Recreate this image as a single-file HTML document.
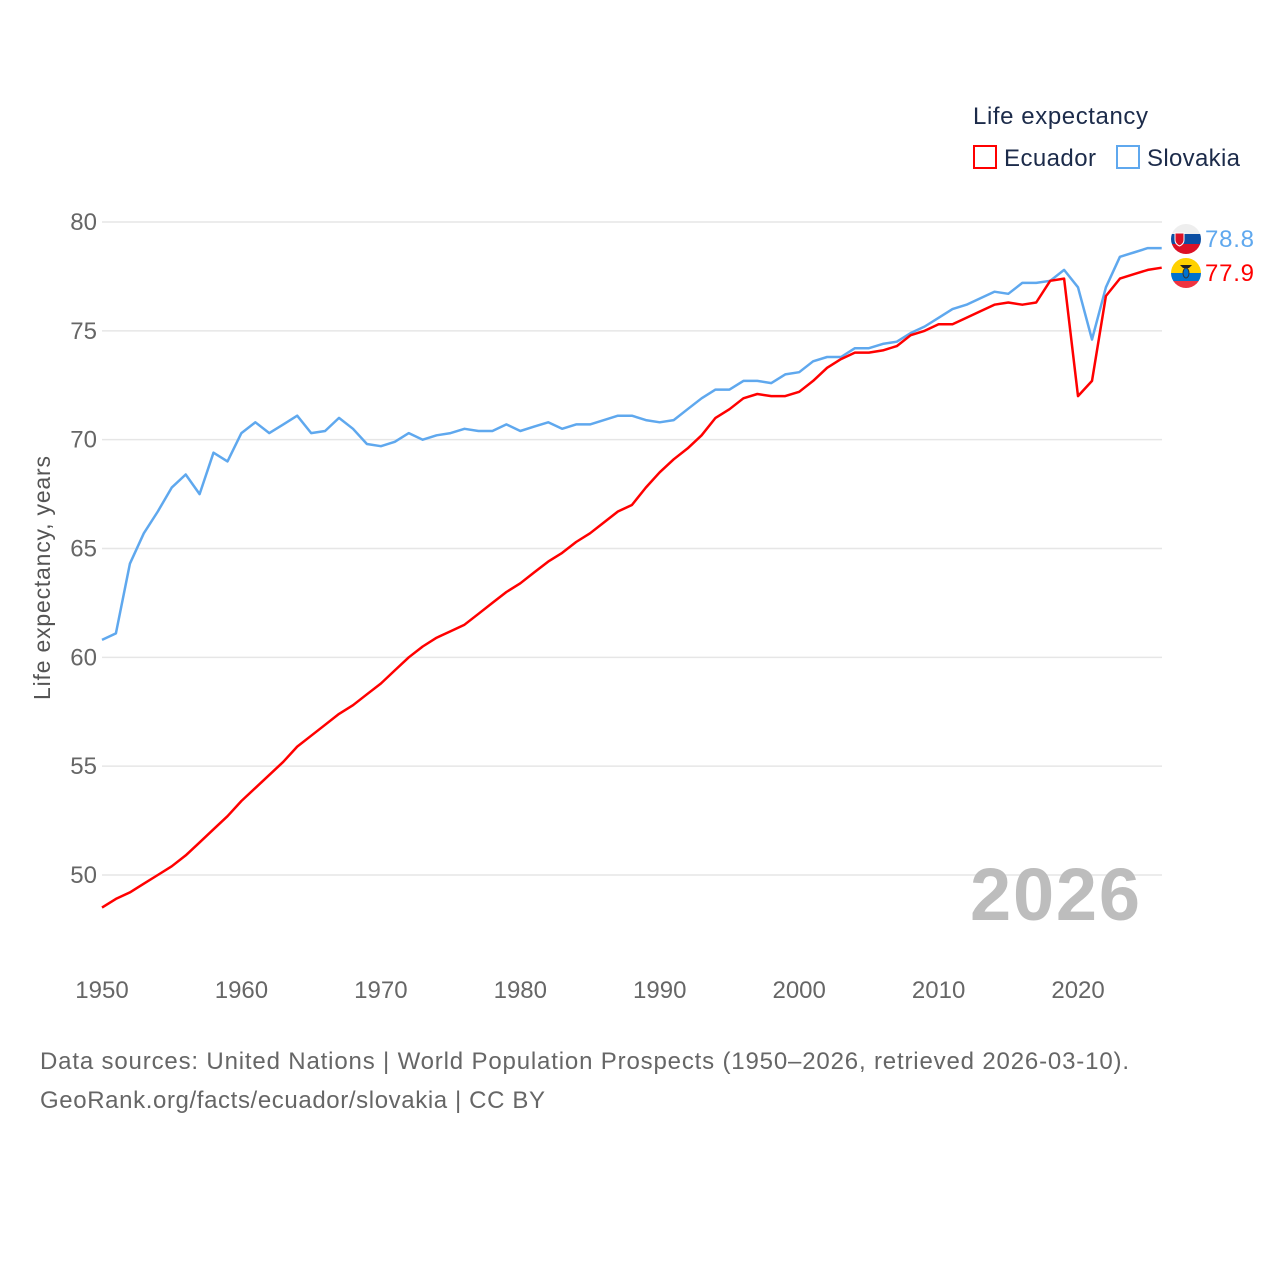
<!DOCTYPE html>
<html><head><meta charset="utf-8"><style>
body{margin:0;background:#fff;}
svg{display:block;font-family:"Liberation Sans",sans-serif;}
</style></head><body>
<svg id="chart" width="1280" height="1280" viewBox="0 0 1280 1280">
<rect width="1280" height="1280" fill="#fff"/>
<g id="grid"></g>
<g id="yticks"></g>
<g id="xticks"></g>
<text x="50" y="578" transform="rotate(-90 50 578)" text-anchor="middle" font-size="23" fill="#555" textLength="244">Life expectancy, years</text>
<text x="1140" y="920" text-anchor="end" font-size="74" font-weight="bold" fill="#bdbdbd" textLength="170">2026</text>
<g id="series"></g>
<g>
<text x="973" y="124" font-size="24" fill="#1c2b4a" textLength="175">Life expectancy</text>
<g><rect x="974" y="146" width="22" height="22" fill="none" stroke="#ff0000" stroke-width="2"/><text x="1004" y="166" font-size="24" fill="#1c2b4a" textLength="92">Ecuador</text></g>
<g><rect x="1117" y="146" width="22" height="22" fill="none" stroke="#5fa8ee" stroke-width="2"/><text x="1147" y="166" font-size="24" fill="#1c2b4a" textLength="93">Slovakia</text></g>
</g>
<g>
<defs><clipPath id="cs"><circle cx="1186" cy="239" r="15"/></clipPath><clipPath id="ce"><circle cx="1186" cy="273" r="15"/></clipPath></defs>
<g clip-path="url(#cs)"><rect x="1171" y="224" width="30" height="10" fill="#eee"/><rect x="1171" y="234" width="30" height="10" fill="#0b4ea2"/><rect x="1171" y="244" width="30" height="10" fill="#dc1126"/><path d="M1175 233h9v7q0 4-4.5 6q-4.5-2-4.5-6z" fill="#dc1126" stroke="#fff" stroke-width="1"/></g>
<g clip-path="url(#ce)"><rect x="1171" y="258" width="30" height="15" fill="#ffd100"/><rect x="1171" y="273" width="30" height="8" fill="#0072ce"/><rect x="1171" y="281" width="30" height="8" fill="#ef3340"/><ellipse cx="1186" cy="273" rx="3" ry="5" fill="#0072ce" stroke="#333" stroke-width="1"/><path d="M1180 265h12l-3 3h-6z" fill="#222"/></g>
<text x="1205" y="247" font-size="24" fill="#5fa8ee" textLength="49">78.8</text>
<text x="1205" y="281" font-size="24" fill="#ff0000" textLength="49">77.9</text>
</g>
<text x="40" y="1069" font-size="24" fill="#666" textLength="1089">Data sources: United Nations | World Population Prospects (1950–2026, retrieved 2026-03-10).</text>
<text x="40" y="1108" font-size="24" fill="#666" textLength="505">GeoRank.org/facts/ecuador/slovakia | CC BY</text>
</svg>
<script>
const years = [];
for (let y = 1950; y <= 2026; y++) years.push(y);
const slovakia = [60.8,61.1,64.3,65.7,66.7,67.8,68.4,67.5,69.4,69.0,70.3,70.8,70.3,70.7,71.1,70.3,70.4,71.0,70.5,69.8,69.7,69.9,70.3,70.0,70.2,70.3,70.5,70.4,70.4,70.7,70.4,70.6,70.8,70.5,70.7,70.7,70.9,71.1,71.1,70.9,70.8,70.9,71.4,71.9,72.3,72.3,72.7,72.7,72.6,73.0,73.1,73.6,73.8,73.8,74.2,74.2,74.4,74.5,74.9,75.2,75.6,76.0,76.2,76.5,76.8,76.7,77.2,77.2,77.3,77.8,77.0,74.6,77.0,78.4,78.6,78.8,78.8];
const ecuador = [48.5,48.9,49.2,49.6,50.0,50.4,50.9,51.5,52.1,52.7,53.4,54.0,54.6,55.2,55.9,56.4,56.9,57.4,57.8,58.3,58.8,59.4,60.0,60.5,60.9,61.2,61.5,62.0,62.5,63.0,63.4,63.9,64.4,64.8,65.3,65.7,66.2,66.7,67.0,67.8,68.5,69.1,69.6,70.2,71.0,71.4,71.9,72.1,72.0,72.0,72.2,72.7,73.3,73.7,74.0,74.0,74.1,74.3,74.8,75.0,75.3,75.3,75.6,75.9,76.2,76.3,76.2,76.3,77.3,77.4,72.0,72.7,76.6,77.4,77.6,77.8,77.9];
const yTicks = [50,55,60,65,70,75,80];
const xTicks = [1950,1960,1970,1980,1990,2000,2010,2020];
const NS = 'http://www.w3.org/2000/svg';
const xs = yr => 102 + (yr - 1950) * (1161.7 - 102) / 76;
const ys = v => 875 - (v - 50) * (875 - 222) / 30;
const grid = document.getElementById('grid'), yt = document.getElementById('yticks'), xt = document.getElementById('xticks');
yTicks.forEach(v => {
  const l = document.createElementNS(NS, 'line');
  l.setAttribute('x1', 102); l.setAttribute('x2', 1162); l.setAttribute('y1', ys(v)); l.setAttribute('y2', ys(v));
  l.setAttribute('stroke', '#e6e6e6'); l.setAttribute('stroke-width', '1.5');
  
  
  grid.appendChild(l);
  const t = document.createElementNS(NS, 'text');
  t.setAttribute('x', 97); t.setAttribute('y', ys(v) + 8); t.setAttribute('text-anchor', 'end');
  t.setAttribute('font-size', '24'); t.setAttribute('fill', '#666'); t.textContent = v;
  
  
  yt.appendChild(t);
});
xTicks.forEach(v => {
  const t = document.createElementNS(NS, 'text');
  t.setAttribute('x', xs(v)); t.setAttribute('y', 998); t.setAttribute('text-anchor', 'middle');
  t.setAttribute('font-size', '24'); t.setAttribute('fill', '#666'); t.textContent = v;
  
  
  xt.appendChild(t);
});
const sg = document.getElementById('series');
function line(vals, color, name) {
  const p = document.createElementNS(NS, 'path');
  p.setAttribute('d', vals.map((v, i) => (i ? 'L' : 'M') + xs(years[i]).toFixed(1) + ' ' + ys(v).toFixed(1)).join(''));
  p.setAttribute('fill', 'none'); p.setAttribute('stroke', color); p.setAttribute('stroke-width', '2.5'); p.setAttribute('stroke-linejoin', 'round');
  
  
  sg.appendChild(p);
}
line(slovakia, '#5fa8ee', 'slovakia-line');
line(ecuador, '#ff0000', 'ecuador-line');
</script>
</body></html>
